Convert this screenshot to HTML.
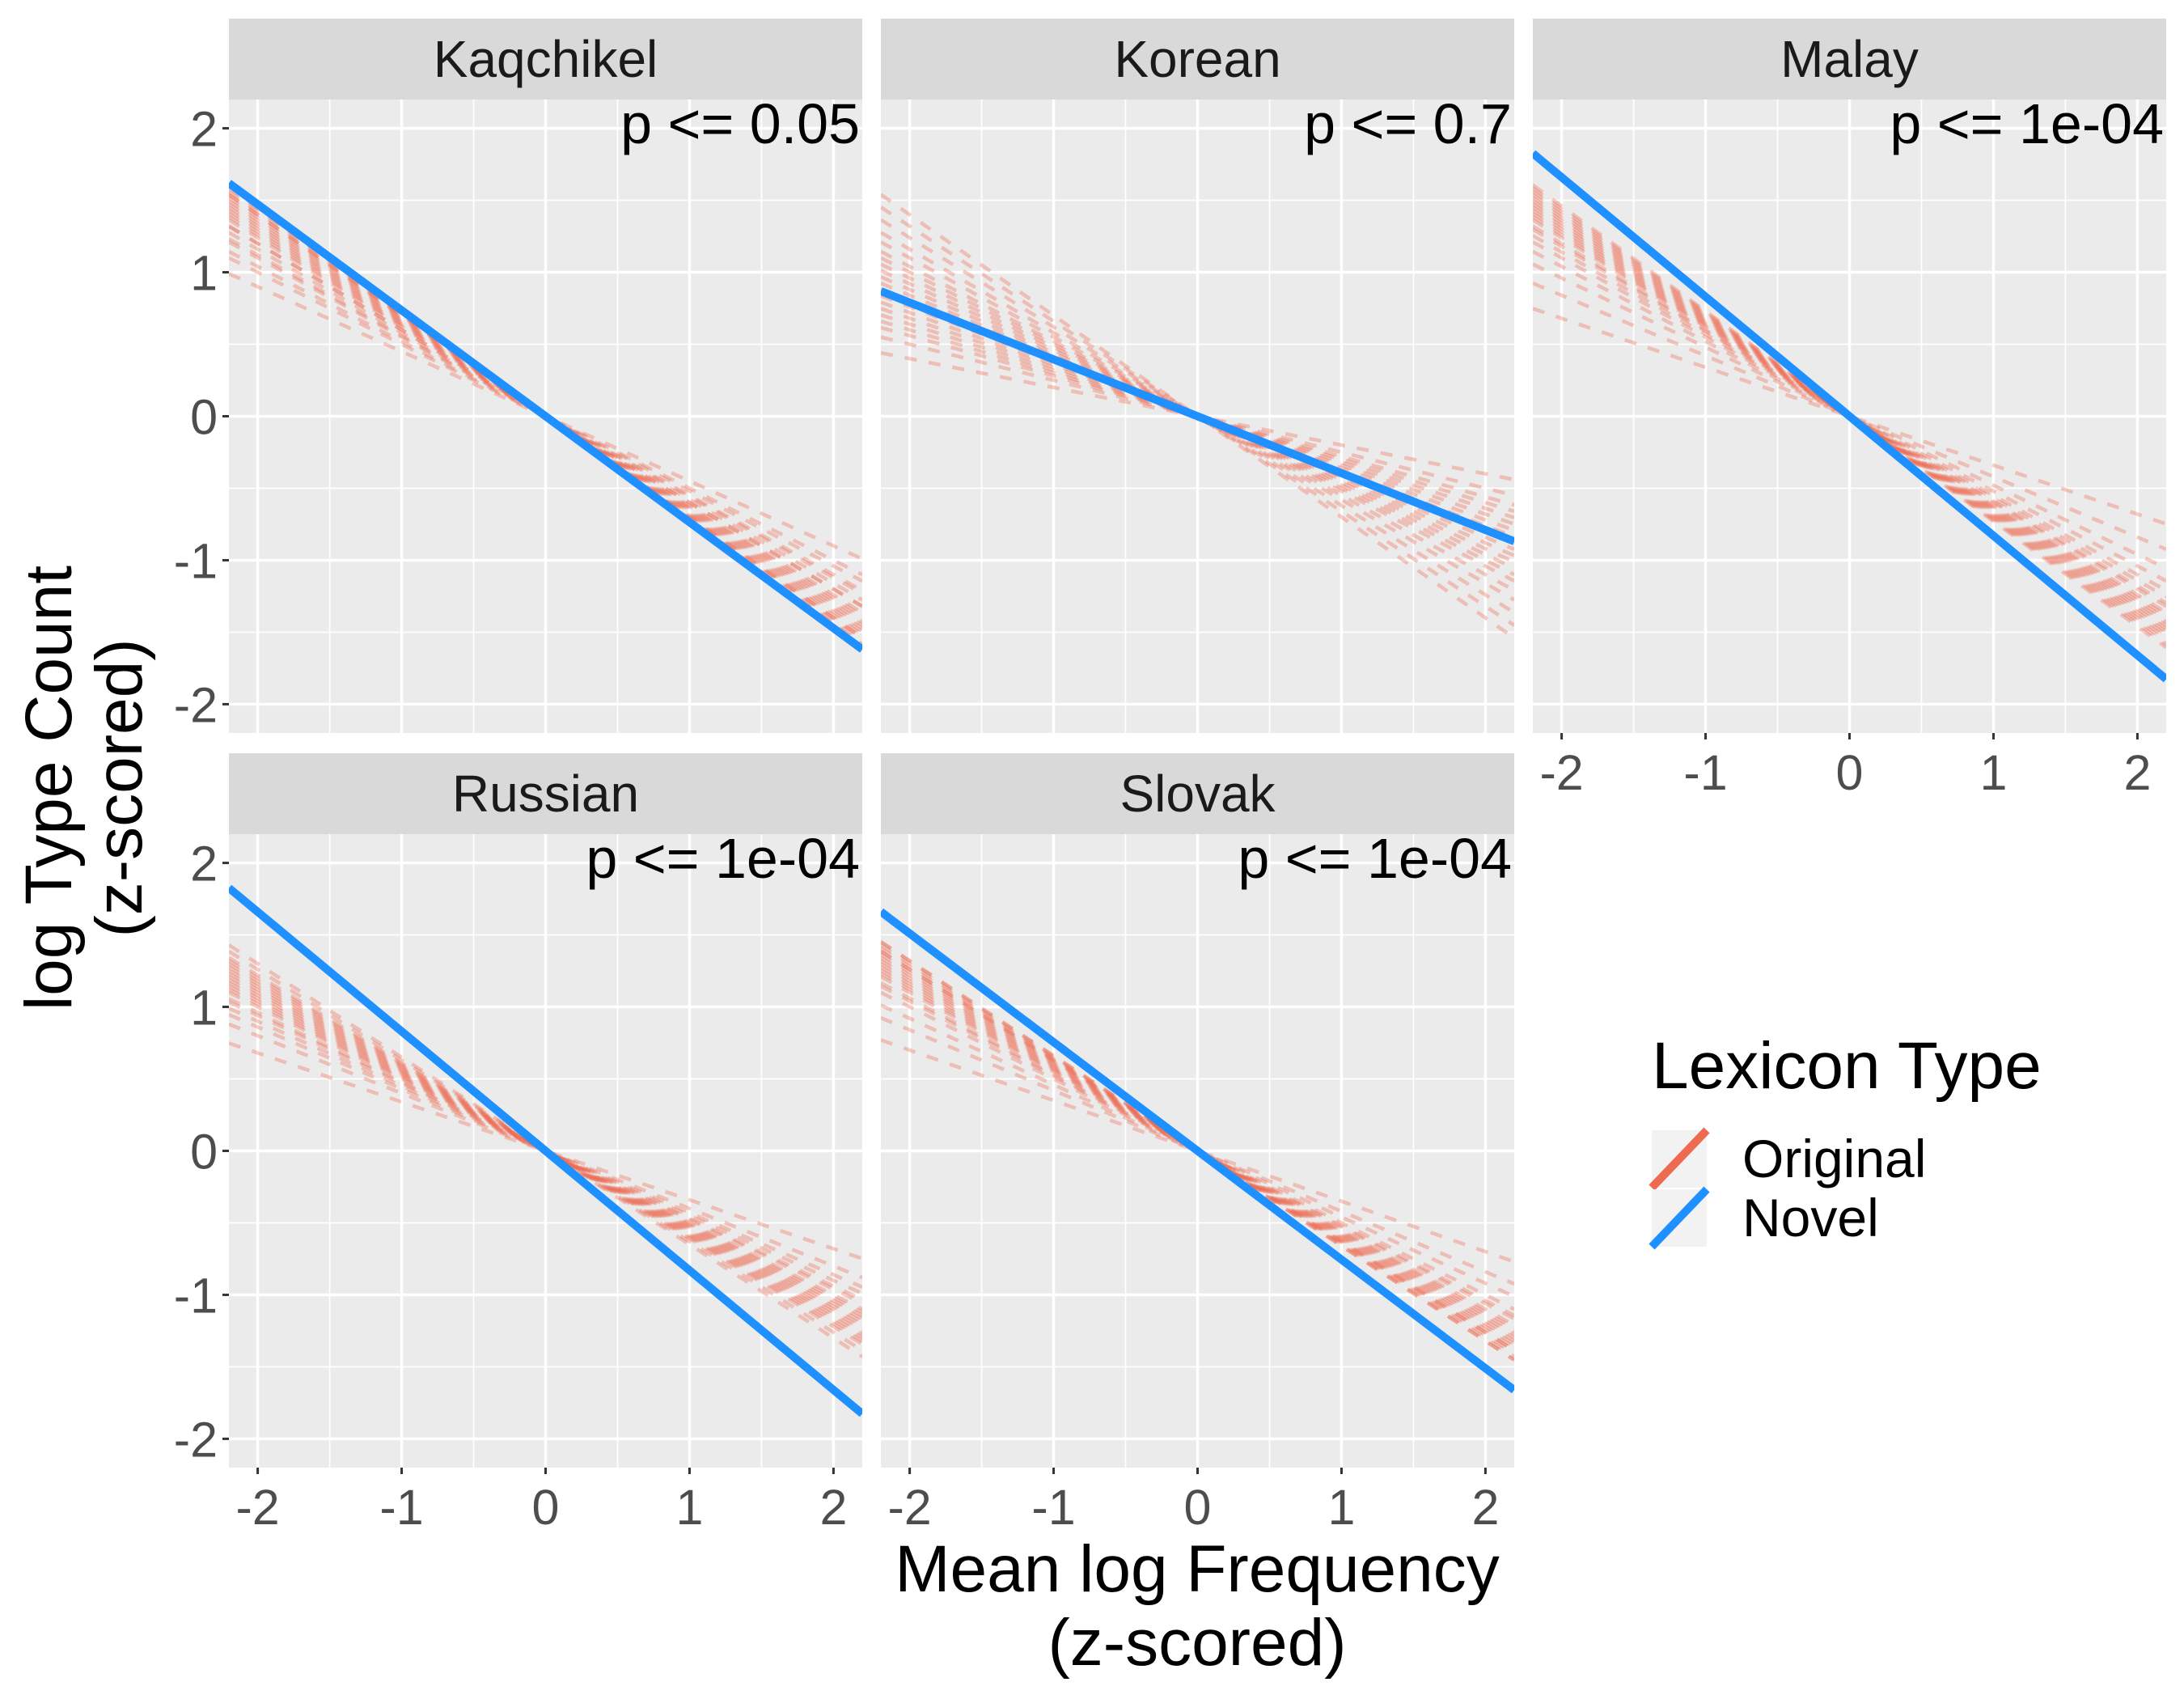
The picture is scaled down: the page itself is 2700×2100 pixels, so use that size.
<!DOCTYPE html>
<html><head><meta charset="utf-8"><style>
html,body{margin:0;padding:0;background:#fff;}
svg{display:block;font-family:"Liberation Sans",sans-serif;}
</style></head><body>
<svg id="chart" width="2700" height="2100" viewBox="0 0 2700 2100" xmlns="http://www.w3.org/2000/svg">
<defs id="defs"></defs>
<g id="panels"></g>
<text x="1480" y="1967" font-size="82" text-anchor="middle" fill="#000">Mean log Frequency</text>
<text x="1480" y="2058" font-size="82" text-anchor="middle" fill="#000">(z-scored)</text>
<text transform="translate(88,974) rotate(-90)" font-size="82" text-anchor="middle" fill="#000">log Type Count</text>
<text transform="translate(175,974) rotate(-90)" font-size="82" text-anchor="middle" fill="#000">(z-scored)</text>
<g>
<text x="2042" y="1345" font-size="82" fill="#000">Lexicon Type</text>
<rect x="2042" y="1397" width="68" height="71" fill="#f2f2f2"/>
<line x1="2042" y1="1468" x2="2110" y2="1397" stroke="#EE6A50" stroke-width="10"/>
<rect x="2042" y="1470" width="68" height="71" fill="#f2f2f2"/>
<line x1="2042" y1="1541" x2="2110" y2="1470" stroke="#1E90FF" stroke-width="10"/>
<text x="2154" y="1455" font-size="66" fill="#000">Original</text>
<text x="2154" y="1528" font-size="66" fill="#000">Novel</text>
</g>
</svg>
<script>
const panelNames = ["Kaqchikel","Korean","Malay","Russian","Slovak"];
const pLabels = ["p <= 0.05","p <= 0.7","p <= 1e-04","p <= 1e-04","p <= 1e-04"];
const novelSlopes = [-0.736,-0.395,-0.83,-0.83,-0.755];
const origSlopesKaqchikel = [-0.45,-0.5,-0.52,-0.55,-0.56,-0.58,-0.6,-0.6,-0.62,-0.63,-0.64,-0.65,-0.66,-0.67,-0.68,-0.69,-0.7,-0.71,-0.72,-0.7];
const origSlopesKorean = [-0.2,-0.25,-0.28,-0.3,-0.32,-0.34,-0.36,-0.38,-0.4,-0.42,-0.44,-0.46,-0.48,-0.5,-0.52,-0.55,-0.58,-0.62,-0.66,-0.7];
const origSlopesMalay = [-0.34,-0.42,-0.48,-0.52,-0.55,-0.57,-0.59,-0.6,-0.62,-0.63,-0.64,-0.65,-0.66,-0.67,-0.68,-0.69,-0.7,-0.71,-0.72,-0.73];
const origSlopesRussian = [-0.34,-0.4,-0.43,-0.45,-0.47,-0.48,-0.5,-0.51,-0.52,-0.53,-0.54,-0.55,-0.56,-0.57,-0.58,-0.59,-0.6,-0.61,-0.63,-0.65];
const origSlopesSlovak = [-0.35,-0.42,-0.46,-0.5,-0.52,-0.53,-0.55,-0.56,-0.57,-0.58,-0.59,-0.6,-0.61,-0.62,-0.63,-0.63,-0.64,-0.65,-0.66,-0.66];
const origSlopes = [origSlopesKaqchikel,origSlopesKorean,origSlopesMalay,origSlopesRussian,origSlopesSlovak];
const tickValues = [-2,-1,0,1,2];
const tickLabels = ["-2","-1","0","1","2"];

const NS="http://www.w3.org/2000/svg";
const root=document.getElementById('panels');
const defs=document.getElementById('defs');
const PW=783, PH=783, XMIN=-2.2, XMAX=2.2;
const lefts=[283,1089,1895], stripTops=[23,931];
function mk(tag,attrs,parent){const e=document.createElementNS(NS,tag);for(const k in attrs)e.setAttribute(k,attrs[k]);parent.appendChild(e);return e;}

panelNames.forEach((name,i)=>{
  const col=i%3,row=Math.floor(i/3);
  const L=lefts[col], ST=stripTops[row], T=ST+100;
  const sx=v=>L+(v-XMIN)/(XMAX-XMIN)*PW;
  const sy=v=>T+(XMAX-v)/(XMAX-XMIN)*PH;
  const g=mk('g',{},root);
  
  
  const strip=mk('rect',{x:L,y:ST,width:PW,height:100,fill:'#D9D9D9'},g);
  
  
  const st=mk('text',{x:L+PW/2,y:ST+72,'font-size':64,'text-anchor':'middle',fill:'#1A1A1A'},g);
  st.textContent=name;
  
  
  const bg=mk('rect',{x:L,y:T,width:PW,height:PH,fill:'#EBEBEB'},g);
  
  
  for(let v=-2;v<=2.001;v+=0.5){
    const major=Math.abs(v-Math.round(v))<1e-6;
    mk('line',{x1:sx(v),x2:sx(v),y1:T,y2:T+PH,stroke:'#fff','stroke-width':major?3.5:1.7},g);
    mk('line',{x1:L,x2:L+PW,y1:sy(v),y2:sy(v),stroke:'#fff','stroke-width':major?3.5:1.7},g);
  }
  const cid='clip'+i;
  const cp=mk('clipPath',{id:cid},defs);
  mk('rect',{x:L,y:T,width:PW,height:PH},cp);
  const lg=mk('g',{'clip-path':'url(#'+cid+')'},g);
  origSlopes[i].forEach(s=>{
    const ln=mk('line',{x1:sx(XMIN),y1:sy(s*XMIN),x2:sx(XMAX),y2:sy(s*XMAX),stroke:'#EE6A50','stroke-opacity':0.35,'stroke-width':4.5,'stroke-dasharray':'15 15'},lg);
    
    
  });
  const nl=mk('line',{x1:sx(XMIN),y1:sy(novelSlopes[i]*XMIN),x2:sx(XMAX),y2:sy(novelSlopes[i]*XMAX),stroke:'#1E90FF','stroke-width':10},lg);
  
  
  const pt=mk('text',{x:L+PW-3,y:T+54,'font-size':70,'text-anchor':'end',fill:'#000'},g);
  pt.textContent=pLabels[i];
  
  
  if(col===0){
    tickValues.forEach((v,k)=>{
      mk('line',{x1:L-8,x2:L,y1:sy(v),y2:sy(v),stroke:'#333','stroke-width':3},g);
      const t=mk('text',{x:L-14,y:sy(v)+22,'font-size':61,'text-anchor':'end',fill:'#4D4D4D'},g);
      t.textContent=tickLabels[k];
      
      
    });
  }
  if(row===1||col===2){
    tickValues.forEach((v,k)=>{
      mk('line',{x1:sx(v),x2:sx(v),y1:T+PH,y2:T+PH+8,stroke:'#333','stroke-width':3},g);
      const t=mk('text',{x:sx(v),y:T+PH+70,'font-size':61,'text-anchor':'middle',fill:'#4D4D4D'},g);
      t.textContent=tickLabels[k];
      
      
    });
  }
});
</script>
</body></html>
